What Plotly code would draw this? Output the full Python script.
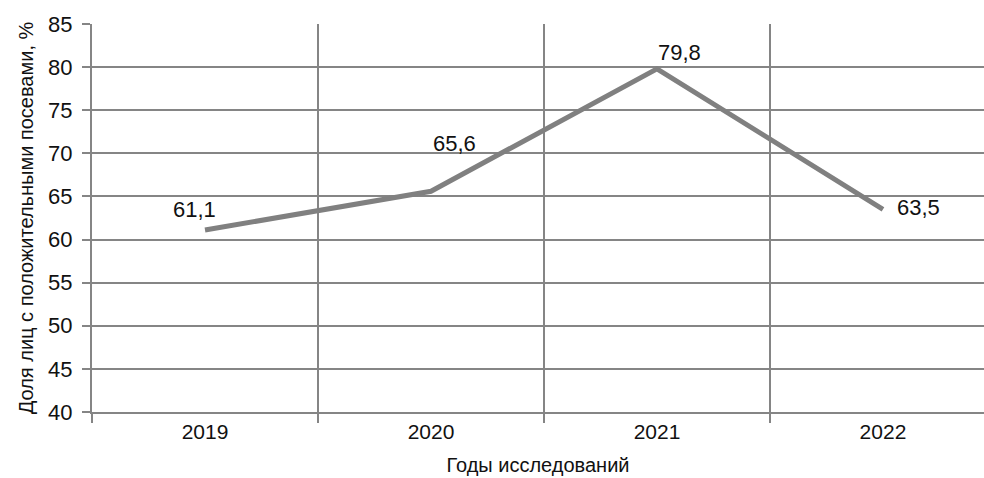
import plotly.graph_objects as go

years = ["2019", "2020", "2021", "2022"]
shares = [61.1, 65.6, 79.8, 63.5]
labels = ["61,1", "65,6", "79,8", "63,5"]
y_ticks = [40, 45, 50, 55, 60, 65, 70, 75, 80, 85]

grid = "#858585"
font = "Liberation Sans, Arial, sans-serif"

fig = go.Figure()
fig.add_trace(go.Scatter(
    x=years, y=shares, mode="lines",
    line=dict(color="#808080", width=5),
    hoverinfo="skip", showlegend=False,
))

# value labels placed around each point (x given as category index)
offsets = [(-11, 21), (24, 48), (23, 16), (36, 2)]
for i, (v, t, (dx, dy)) in enumerate(zip(shares, labels, offsets)):
    fig.add_annotation(x=i, y=v, text=t, showarrow=False,
                       xshift=dx, yshift=dy,
                       font=dict(family=font, size=22, color="#111"))

fig.update_layout(
    width=984, height=478,
    margin=dict(l=92, r=0, t=24, b=66),
    paper_bgcolor="white", plot_bgcolor="white",
    font=dict(family=font, color="#111"),
    xaxis=dict(
        type="category", range=[-0.5, 3.447],
        tickson="boundaries", ticks="outside", ticklen=9,
        tickcolor=grid, tickwidth=2,
        showgrid=True, gridcolor=grid, gridwidth=2,
        showline=True, linecolor=grid, linewidth=2,
        tickfont=dict(size=21, color="#111"),
        title=dict(text="Годы исследований", font=dict(size=20), standoff=16),
    ),
    yaxis=dict(
        range=[40, 85], tickvals=y_ticks,
        ticks="outside", ticklen=8, tickcolor=grid, tickwidth=2,
        ticklabelstandoff=5,
        showgrid=True, gridcolor=grid, gridwidth=2,
        showline=True, linecolor=grid, linewidth=2,
        zeroline=False,
        tickfont=dict(size=22, color="#111"),
        title=dict(text="Доля лиц с положительными посевами, %",
                   font=dict(size=20), standoff=9),
    ),
)

fig.write_html("out.html")
